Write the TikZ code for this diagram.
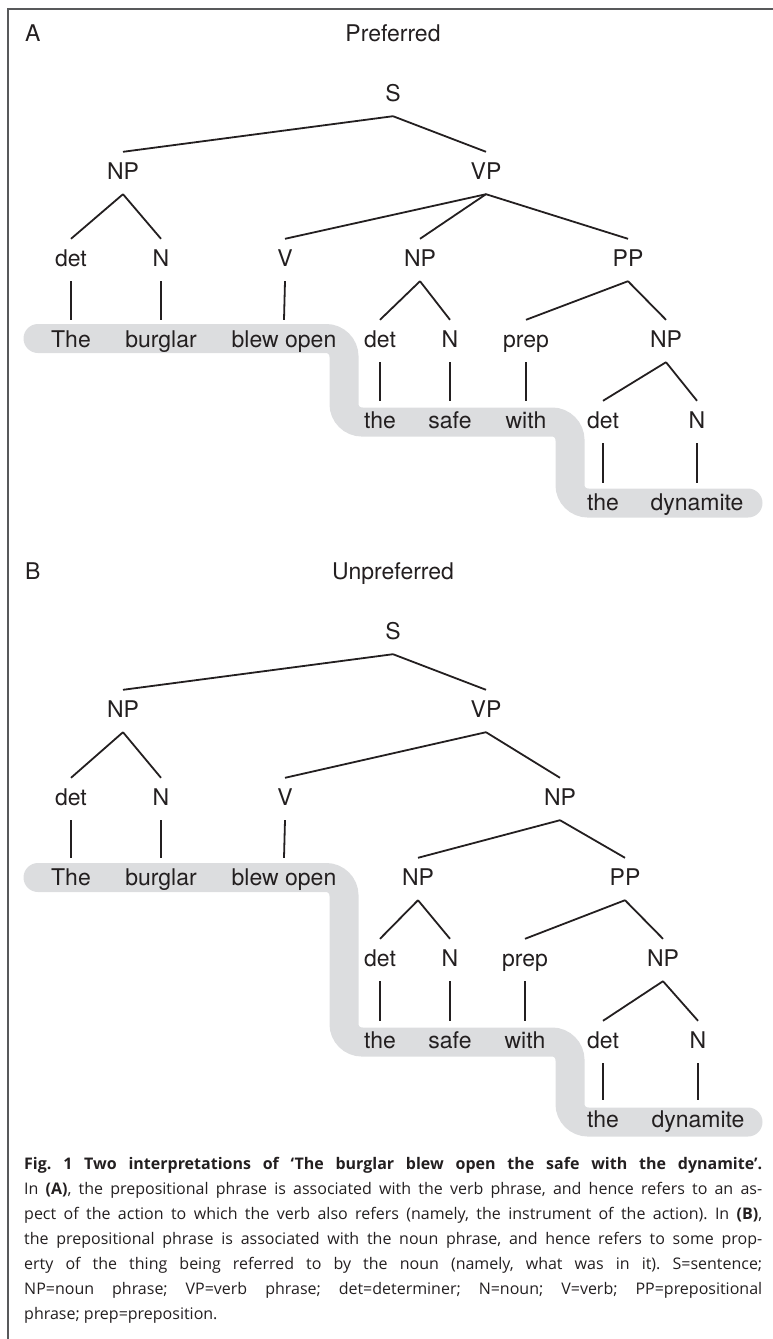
\documentclass[tikz,border=0pt]{standalone}
\usepackage{fontspec}
\setmainfont{TeX Gyre Heros}
\newfontfamily\capfont{Open Sans}
\usetikzlibrary{backgrounds}
\definecolor{bandgrey}{RGB}{220,221,223}
\definecolor{ink}{RGB}{35,31,32}
\definecolor{framegrey}{RGB}{88,89,91}

\begin{document}
\begin{tikzpicture}
		[x=1pt,y=-1pt,
		word/.style={inner sep=0pt,minimum height=42pt,text height=16.5pt,text depth=4.5pt,
			font=\fontsize{23}{27}\selectfont,text=ink},
		branch/.style={draw=ink,line width=1.8pt},
		band/.style={draw=bandgrey,line width=29pt,line cap=round,rounded corners=18pt}]
		\useasboundingbox (0,0) rectangle (773,1339);
		\draw[framegrey,line width=2pt] (773,9) -- (8,9) -- (8,1339);

		\draw[band] (38,338.5) -- (344,338.5) -- (344,422) -- (570,422) -- (570,503) -- (748,503);
		\draw[band] (38,877.5) -- (344,877.5) -- (344,1042) -- (570,1042) -- (570,1122) -- (748,1122);

		\node[word,anchor=west] (panelA) at (25,35) {A};
		\node[word] (titleA) at (393,35) {Preferred};
		\node[word] (sA) at (393,95) {S};
		\node[word] (npA) at (123,173) {NP};
		\node[word] (vpA) at (486,173) {VP};
		\node[word] (detA1) at (71,260) {det};
		\node[word] (nA1) at (161,260) {N};
		\node[word] (vA) at (285,260) {V};
		\node[word] (npA2) at (420,260) {NP};
		\node[word] (ppA) at (628,260) {PP};
		\node[word] (theA) at (71,341) {The};
		\node[word] (burglarA) at (161,341) {burglar};
		\node[word] (blewA) at (284,341) {blew open};
		\node[word] (detA2) at (380,341) {det};
		\node[word] (nA2) at (450,341) {N};
		\node[word] (prepA) at (526,341) {prep};
		\node[word] (npA3) at (666,341) {NP};
		\node[word] (theA2) at (380,422) {the};
		\node[word] (safeA) at (450,422) {safe};
		\node[word] (withA) at (526,422) {with};
		\node[word] (detA3) at (603,422) {det};
		\node[word] (nA3) at (697,422) {N};
		\node[word] (theA3) at (603,504) {the};
		\node[word] (dynA) at (697,504) {dynamite};

		\node[word,anchor=west] (panelB) at (25,573) {B};
		\node[word] (titleB) at (393,573) {Unpreferred};
		\node[word] (sB) at (393,633) {S};
		\node[word] (npB) at (123,711) {NP};
		\node[word] (vpB) at (486,711) {VP};
		\node[word] (detB1) at (71,799) {det};
		\node[word] (nB1) at (161,799) {N};
		\node[word] (vB) at (285,799) {V};
		\node[word] (npB2) at (560,799) {NP};
		\node[word] (theB) at (71,879) {The};
		\node[word] (burglarB) at (161,879) {burglar};
		\node[word] (blewB) at (284,879) {blew open};
		\node[word] (npB3) at (418,879) {NP};
		\node[word] (ppB) at (625,879) {PP};
		\node[word] (detB2) at (380,960) {det};
		\node[word] (nB2) at (450,960) {N};
		\node[word] (prepB) at (525,960) {prep};
		\node[word] (npB4) at (663,960) {NP};
		\node[word] (theB2) at (380,1042) {the};
		\node[word] (safeB) at (450,1042) {safe};
		\node[word] (withB) at (525,1042) {with};
		\node[word] (detB3) at (603,1042) {det};
		\node[word] (nB3) at (698,1042) {N};
		\node[word] (theB3) at (603,1121) {the};
		\node[word] (dynB) at (698,1121) {dynamite};

		\foreach \a/\b in {sA/npA,sA/vpA,npA/detA1,npA/nA1,vpA/vA,vpA/npA2,vpA/ppA,
			detA1/theA,nA1/burglarA,vA/blewA,npA2/detA2,npA2/nA2,ppA/prepA,ppA/npA3,
			detA2/theA2,nA2/safeA,prepA/withA,npA3/detA3,npA3/nA3,detA3/theA3,nA3/dynA}
			\draw[branch] (\a.south) -- (\b.north);

		\foreach \a/\b in {sB/npB,sB/vpB,npB/detB1,npB/nB1,vpB/vB,vpB/npB2,
			detB1/theB,nB1/burglarB,vB/blewB,npB2/npB3,npB2/ppB,npB3/detB2,npB3/nB2,
			ppB/prepB,ppB/npB4,detB2/theB2,nB2/safeB,prepB/withB,npB4/detB3,npB4/nB3,
			detB3/theB3,nB3/dynB}
			\draw[branch] (\a.south) -- (\b.north);

		\node[anchor=north west,inner sep=0pt,text width=738pt,align=justify,text=ink,
			font=\capfont\fontsize{16}{25}\selectfont\frenchspacing] (caption) at (24,1157)
			{\textbf{Fig. 1 Two interpretations of ‘The burglar blew open the safe with the dynamite’.}\linebreak
			In \textbf{(A)}, the prepositional phrase is associated with the verb phrase, and hence refers to an as-\linebreak
			pect of the action to which the verb also refers (namely, the instrument of the action). In \textbf{(B)},\linebreak
			the prepositional phrase is associated with the noun phrase, and hence refers to some prop-\linebreak
			erty of the thing being referred to by the noun (namely, what was in it). S=sentence;\linebreak
			NP=noun phrase; VP=verb phrase; det=determiner; N=noun; V=verb; PP=prepositional\linebreak
			phrase; prep=preposition.};
\end{tikzpicture}
\end{document}
